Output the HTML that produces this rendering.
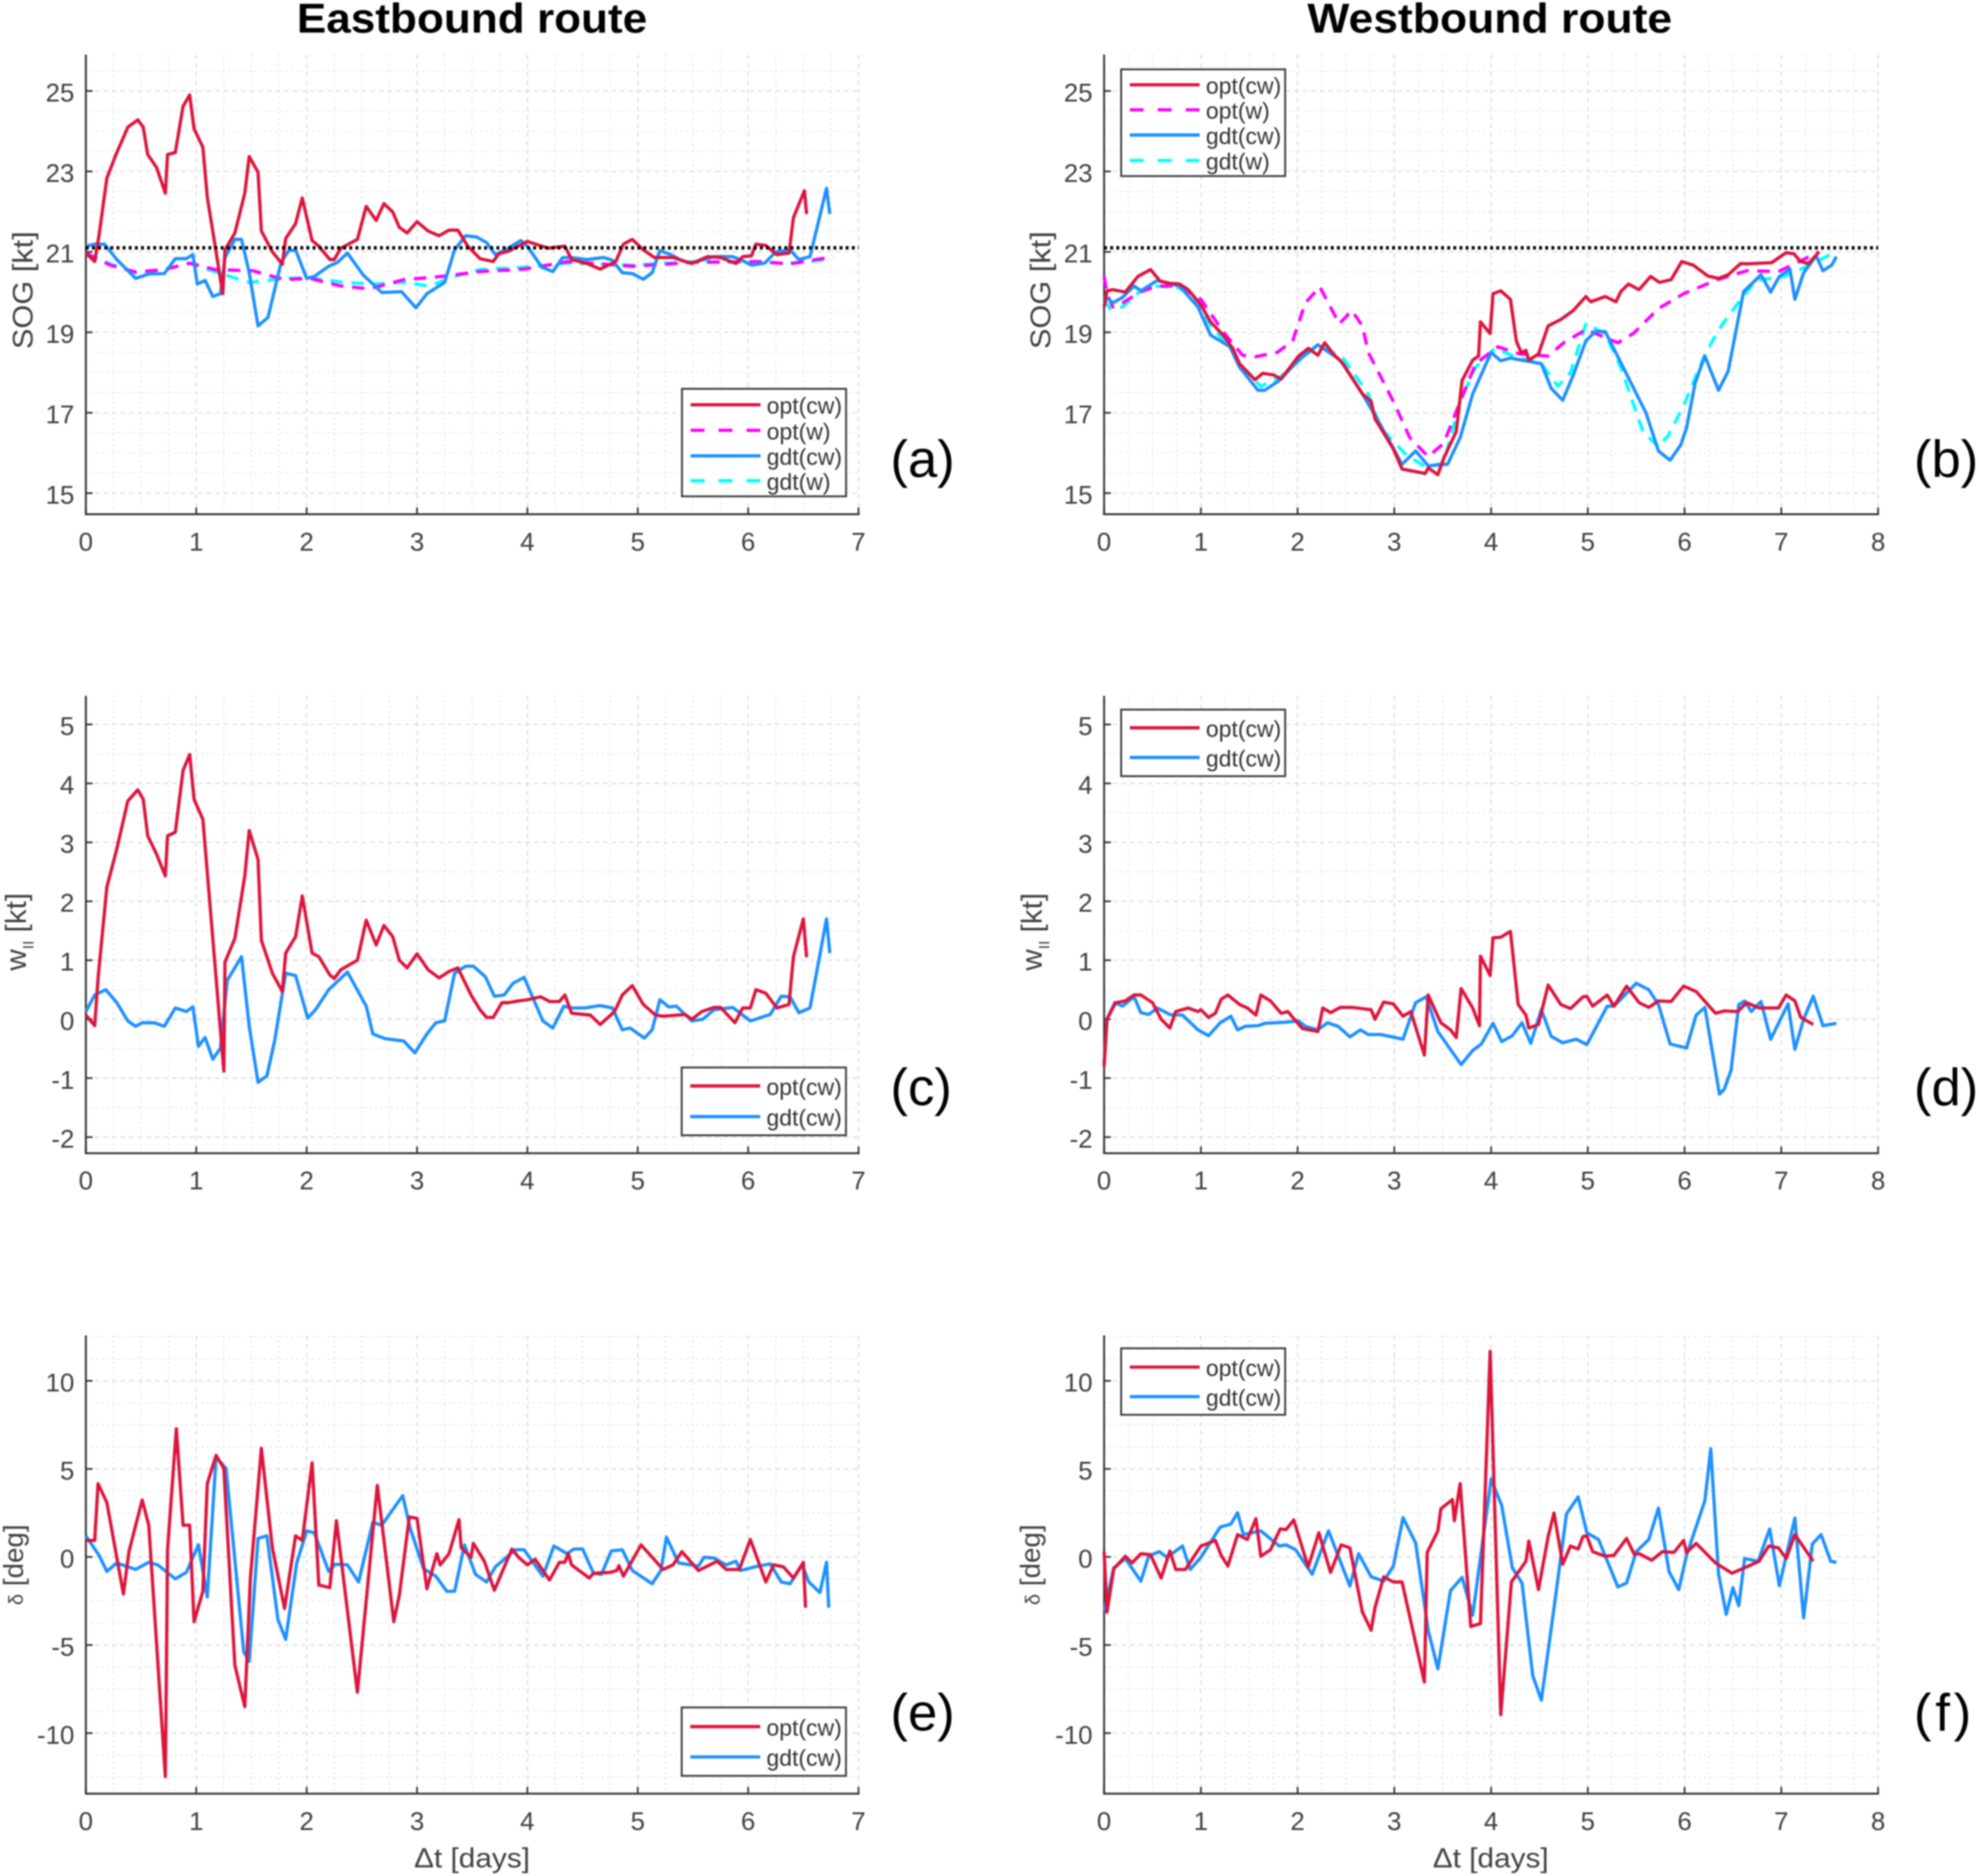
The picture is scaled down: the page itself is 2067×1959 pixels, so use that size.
<!DOCTYPE html>
<html lang="en">
<head>
<meta charset="utf-8">
<title>Eastbound and westbound route charts</title>
<style>
html,body{margin:0;padding:0;background:#fff;}
body{width:2067px;height:1959px;overflow:hidden;}
svg{display:block;filter:blur(0.7px);font-family:"Liberation Sans",sans-serif;}
</style>
</head>
<body>
<svg id="figure" xmlns="http://www.w3.org/2000/svg" width="2067" height="1959" viewBox="0 0 2067 1959">
  <rect width="2067" height="1959" fill="#fff"/>
  <g id="plots"></g>
  <text x="493" y="34" font-size="44" font-weight="bold" text-anchor="middle" textLength="366" lengthAdjust="spacingAndGlyphs" fill="#000">Eastbound route</text>
  <text x="1556" y="34" font-size="44" font-weight="bold" text-anchor="middle" textLength="381" lengthAdjust="spacingAndGlyphs" fill="#000">Westbound route</text>

  <text transform="translate(34,303) rotate(-90)" font-size="30" text-anchor="middle" textLength="123" lengthAdjust="spacingAndGlyphs" fill="#404040">SOG  [kt]</text>
  <text transform="translate(1097,303) rotate(-90)" font-size="30" text-anchor="middle" textLength="123" lengthAdjust="spacingAndGlyphs" fill="#404040">SOG  [kt]</text>
  <text transform="translate(27,973) rotate(-90)" font-size="31" text-anchor="middle" fill="#404040">w<tspan font-size="16" dy="8">II</tspan><tspan dy="-8"> [kt]</tspan></text>
  <text transform="translate(1088,973) rotate(-90)" font-size="31" text-anchor="middle" fill="#404040">w<tspan font-size="16" dy="8">II</tspan><tspan dy="-8"> [kt]</tspan></text>
  <text transform="translate(24,1634) rotate(-90)" font-size="29" text-anchor="middle" fill="#404040"><tspan font-size="21">δ</tspan> [deg]</text>
  <text transform="translate(1086,1634) rotate(-90)" font-size="29" text-anchor="middle" fill="#404040"><tspan font-size="21">δ</tspan> [deg]</text>

  <text x="493" y="1950" font-size="29" text-anchor="middle" textLength="121" lengthAdjust="spacingAndGlyphs" fill="#404040">Δt [days]</text>
  <text x="1557" y="1950" font-size="29" text-anchor="middle" textLength="121" lengthAdjust="spacingAndGlyphs" fill="#404040">Δt [days]</text>

  <text x="930" y="498" font-size="55" fill="#000">(a)</text>
  <text x="1999" y="498" font-size="55" fill="#000">(b)</text>
  <text x="930" y="1154" font-size="55" fill="#000">(c)</text>
  <text x="1999" y="1154" font-size="55" fill="#000">(d)</text>
  <text x="930" y="1807" font-size="55" fill="#000">(e)</text>
  <text x="1999" y="1807" font-size="55" letter-spacing="4" fill="#000">(f)</text>
</svg>
<script>
// ---- tick labels ----
const xTicksEast = [0,1,2,3,4,5,6,7];
const xTicksWest = [0,1,2,3,4,5,6,7,8];
const yTicksSog = [15,17,19,21,23,25];
const yTicksWind = [-2,-1,0,1,2,3,4,5];
const yTicksDelta = [-10,-5,0,5,10];
const serviceSpeed = 21.1;

// ---- panel (a) ----
const aOptCwT = [0,.08,.12,.19,.27,.38,.47,.52,.56,.64,.72,.74,.81,.88,.94,.98,1.06,1.10,1.24,1.26,1.35,1.44,1.48,1.56,1.59,1.69,1.78,1.81,1.90,1.96,2.05,2.11,2.21,2.25,2.31,2.46,2.54,2.63,2.70,2.78,2.84,2.91,3.0,3.10,3.2,3.29,3.37,3.46,3.57,3.69,3.74,3.83,4.0,4.19,4.34,4.40,4.54,4.66,4.80,4.87,4.95,5.05,5.15,5.32,5.49,5.63,5.75,5.89,5.95,6.03,6.07,6.16,6.26,6.37,6.41,6.51,6.53];
const aOptCwV = [20.97,20.76,21.42,22.83,23.4,24.1,24.28,24.1,23.42,23.1,22.46,23.42,23.47,24.62,24.9,24.06,23.6,22.36,19.96,21.05,21.47,22.46,23.37,22.98,21.52,21.0,20.69,21.33,21.7,22.34,21.28,21.14,20.81,20.81,21.09,21.31,22.13,21.78,22.2,21.99,21.61,21.47,21.75,21.52,21.4,21.54,21.54,21.14,20.83,20.76,20.95,21.02,21.26,21.09,21.14,20.81,20.71,20.57,20.76,21.19,21.31,21.05,20.86,20.86,20.71,20.88,20.86,20.71,20.88,20.90,21.19,21.16,20.93,20.97,21.85,22.52,21.94];
const aGdtCwT = [0,.08,.17,.28,.45,.57,.71,.81,.91,.97,1.01,1.08,1.15,1.22,1.26,1.35,1.41,1.48,1.56,1.65,1.77,1.84,1.90,2.0,2.07,2.2,2.28,2.37,2.51,2.68,2.86,2.99,3.09,3.25,3.34,3.44,3.54,3.63,3.71,3.80,3.94,4.0,4.13,4.23,4.32,4.40,4.54,4.69,4.77,4.86,4.95,5.05,5.13,5.20,5.30,5.40,5.49,5.60,5.69,5.86,5.95,6.03,6.15,6.25,6.38,6.46,6.56,6.71,6.74];
const aGdtCwV = [21.14,21.19,21.19,20.81,20.34,20.45,20.46,20.83,20.83,20.93,20.2,20.29,19.89,19.96,20.86,21.31,21.31,20.48,19.16,19.37,20.76,21.03,21.05,20.34,20.39,20.64,20.74,20.97,20.43,19.99,20.01,19.61,19.96,20.24,21.05,21.40,21.37,21.23,20.93,21.05,21.28,21.14,20.62,20.51,20.86,20.86,20.81,20.86,20.79,20.48,20.46,20.32,20.48,21.03,20.93,20.78,20.72,20.81,20.88,20.88,20.78,20.67,20.72,21.0,21.05,20.81,20.88,22.58,21.94];
const aOptWT = [0,.22,.45,.71,.94,1.17,1.51,1.8,2.03,2.31,2.57,2.88,3.23,3.57,3.97,4.37,4.95,5.52,6.09,6.38,6.77];
const aOptWV = [20.97,20.67,20.5,20.56,20.72,20.56,20.53,20.31,20.34,20.15,20.08,20.31,20.39,20.51,20.57,20.76,20.64,20.74,20.76,20.7,20.88];
const aGdtWT = [0,.22,.45,.71,.94,1.2,1.48,1.8,2.03,2.34,2.6,2.88,3.11,3.34,3.57,3.97,4.37,4.95,5.52,6.09,6.38,6.72];
const aGdtWV = [20.97,20.7,20.48,20.56,20.72,20.48,20.24,20.34,20.36,20.24,20.2,20.24,20.15,20.39,20.56,20.62,20.72,20.67,20.76,20.73,20.72,20.81];

// ---- panel (b) ----
const bOptCwT = [0,.03,.09,.22,.35,.48,.58,.68,.78,.87,1.0,1.1,1.23,1.33,1.4,1.56,1.64,1.75,1.83,2.01,2.11,2.21,2.28,2.37,2.47,2.67,2.76,2.8,2.99,3.08,3.32,3.35,3.45,3.51,3.64,3.7,3.81,3.87,3.89,3.99,4.02,4.1,4.2,4.26,4.31,4.36,4.39,4.49,4.59,4.72,4.85,4.98,5.03,5.18,5.29,5.34,5.42,5.53,5.65,5.74,5.86,5.97,6.09,6.24,6.35,6.45,6.58,6.64,6.9,7.05,7.13,7.2,7.28,7.39];
const bOptCwV = [19.63,20.03,20.06,20.0,20.39,20.56,20.27,20.22,20.2,20.06,19.68,19.26,18.93,18.6,18.22,17.82,17.98,17.94,17.84,18.41,18.6,18.43,18.74,18.46,18.22,17.47,17.28,16.85,16.1,15.6,15.49,15.63,15.46,15.87,16.53,17.8,18.31,18.41,19.26,18.97,19.96,20.03,19.82,18.79,18.5,18.55,18.31,18.46,19.16,19.32,19.54,19.89,19.76,19.89,19.76,20.01,20.2,20.06,20.39,20.24,20.31,20.76,20.67,20.4,20.34,20.43,20.71,20.7,20.73,20.98,20.95,20.76,20.71,21.0];
const bGdtCwT = [0,.09,.19,.31,.38,.55,.78,.97,1.1,1.3,1.4,1.59,1.66,1.81,2.01,2.21,2.44,2.67,2.83,3.08,3.22,3.35,3.55,3.68,3.81,4.0,4.1,4.2,4.52,4.62,4.74,4.85,4.98,5.08,5.18,5.6,5.73,5.85,5.96,6.02,6.11,6.21,6.35,6.45,6.61,6.79,6.89,6.98,7.09,7.14,7.23,7.36,7.43,7.52,7.57];
const bGdtCwV = [19.92,19.73,19.87,20.15,20.03,20.29,20.15,19.63,18.93,18.64,18.13,17.56,17.56,17.8,18.31,18.69,18.31,17.47,16.81,15.72,16.05,15.68,15.72,16.38,17.47,18.5,18.29,18.36,18.22,17.61,17.31,17.94,18.79,19.02,19.02,17.0,16.05,15.82,16.2,16.62,17.75,18.41,17.56,18.03,20.01,20.43,20.0,20.39,20.57,19.82,20.48,20.9,20.53,20.67,20.88];
const bOptWT = [0,.03,.09,.19,.38,.55,.78,1.0,1.23,1.43,1.56,1.79,1.95,2.08,2.23,2.43,2.56,2.67,2.73,2.99,3.16,3.35,3.51,3.68,3.84,4.07,4.3,4.59,4.75,4.98,5.31,5.47,5.73,5.99,6.32,6.64,6.97,7.39];
const bOptWV = [20.39,19.96,19.63,19.73,20.01,20.15,20.15,19.82,19.02,18.43,18.39,18.5,18.79,19.73,20.13,19.21,19.54,19.16,18.5,17.28,16.38,15.91,16.24,17.28,18.22,18.64,18.46,18.41,18.74,19.07,18.74,18.97,19.59,19.96,20.29,20.53,20.51,21.0];
const bGdtWT = [0,.06,.19,.38,.55,.78,.97,1.1,1.33,1.43,1.62,1.82,2.05,2.21,2.47,2.73,2.86,3.12,3.32,3.51,3.68,3.84,4.04,4.23,4.52,4.69,4.82,4.98,5.18,5.34,5.57,5.73,5.83,5.99,6.22,6.38,6.58,6.74,7.03,7.29,7.56];
const bGdtWV = [19.82,19.59,19.63,20.03,20.15,20.1,19.77,19.16,18.55,18.08,17.66,17.89,18.36,18.69,18.36,17.47,16.62,15.96,15.66,15.75,17.28,18.13,18.6,18.41,18.22,17.66,17.99,19.21,18.97,18.13,16.53,16.15,16.43,17.18,18.5,19.16,19.82,20.29,20.39,20.67,21.0];

// ---- panel (c) ----
const cOptCwT = [0,.08,.11,.19,.28,.38,.47,.52,.56,.64,.72,.74,.81,.88,.94,.98,1.06,1.10,1.25,1.26,1.35,1.44,1.48,1.56,1.59,1.69,1.78,1.81,1.90,1.96,2.05,2.11,2.21,2.25,2.31,2.46,2.54,2.63,2.70,2.78,2.84,2.91,3.0,3.10,3.2,3.29,3.37,3.49,3.57,3.63,3.69,3.77,3.83,3.92,4.0,4.12,4.2,4.29,4.34,4.40,4.57,4.66,4.79,4.86,4.95,5.05,5.16,5.23,5.43,5.49,5.58,5.69,5.75,5.88,5.95,6.02,6.07,6.16,6.26,6.37,6.41,6.50,6.53];
const cOptCwV = [.07,-.11,.69,2.24,2.89,3.70,3.89,3.73,3.11,2.8,2.43,3.11,3.17,4.22,4.49,3.73,3.39,2.49,-.88,.97,1.37,2.43,3.2,2.71,1.34,.78,.47,1.12,1.4,2.09,1.12,1.06,.75,.69,.84,1.0,1.68,1.26,1.59,1.4,1.0,.87,1.11,.84,.7,.81,.87,.41,.16,.03,.03,.28,.28,.31,.33,.38,.30,.3,.41,.1,.07,-.09,.13,.41,.57,.25,.07,.05,.08,0,.13,.2,.2,-.06,.19,.19,.5,.44,.19,.25,1.06,1.7,1.05];
const cGdtCwT = [0,.08,.18,.28,.38,.45,.51,.62,.71,.81,.91,.97,1.02,1.08,1.15,1.22,1.28,1.41,1.48,1.56,1.64,1.71,1.81,1.90,2.01,2.08,2.2,2.37,2.54,2.6,2.71,2.88,2.98,3.09,3.17,3.25,3.34,3.44,3.51,3.62,3.70,3.79,3.87,3.97,4.14,4.23,4.33,4.40,4.52,4.66,4.77,4.86,4.93,5.06,5.13,5.2,5.28,5.35,5.49,5.59,5.69,5.86,5.93,6.02,6.2,6.3,6.38,6.46,6.56,6.71,6.74];
const cGdtCwV = [.13,.41,.5,.28,-.03,-.12,-.06,-.06,-.12,.19,.13,.21,-.46,-.31,-.68,-.49,.66,1.06,-.12,-1.07,-.96,-.37,.78,.74,.02,.16,.5,.8,.22,-.25,-.33,-.37,-.57,-.25,-.06,-.03,.78,.9,.9,.72,.39,.41,.61,.71,-.03,-.15,.22,.19,.19,.23,.19,-.18,-.15,-.32,-.18,.33,.21,.22,-.03,0,.16,.2,.1,-.03,.08,.39,.38,.11,.19,1.7,1.12];

// ---- panel (d) ----
const dOptCwT = [0,.03,.12,.22,.31,.38,.5,.59,.68,.74,.87,.97,1.0,1.08,1.15,1.21,1.28,1.4,1.48,1.57,1.62,1.72,1.83,1.9,1.95,2.05,2.21,2.26,2.34,2.44,2.57,2.76,2.8,2.89,2.99,3.09,3.17,3.31,3.35,3.48,3.58,3.64,3.69,3.81,3.88,3.89,3.99,4.02,4.1,4.2,4.28,4.36,4.39,4.49,4.59,4.72,4.82,4.95,4.99,5.05,5.2,5.27,5.4,5.53,5.63,5.73,5.86,5.99,6.12,6.32,6.41,6.55,6.64,6.77,6.97,7.05,7.14,7.2,7.33];
const dOptCwV = [-.8,0,.28,.31,.41,.41,.28,0,-.15,.13,.19,.13,.16,.03,.1,.34,.41,.25,.19,.07,.41,.31,.1,.13,.03,-.16,-.21,.19,.11,.2,.2,.16,0,.29,.26,.05,.13,-.61,.41,-.06,-.18,-.31,.52,.19,-.11,1.07,.74,1.38,1.39,1.49,.25,.07,-.15,-.09,.58,.25,.18,.38,.39,.22,.41,.22,.56,.28,.2,.31,.3,.56,.47,.1,.14,.13,.28,.19,.19,.41,.31,.03,-.09];
const dGdtCwT = [0,.03,.11,.19,.31,.38,.46,.55,.68,.81,.97,1.08,1.2,1.31,1.38,1.46,1.59,1.66,1.88,2.01,2.08,2.21,2.31,2.42,2.54,2.65,2.73,2.86,3.09,3.22,3.33,3.45,3.69,3.81,3.9,4.02,4.11,4.22,4.32,4.41,4.52,4.62,4.74,4.88,4.99,5.2,5.27,5.5,5.63,5.73,5.85,6.02,6.12,6.21,6.36,6.41,6.48,6.56,6.62,6.69,6.79,6.89,7.07,7.14,7.23,7.33,7.43,7.57];
const dGdtCwV = [-.74,0,.28,.22,.38,.11,.08,.19,.08,.07,-.18,-.28,-.06,.05,-.18,-.12,-.11,-.07,-.05,-.03,-.12,-.18,-.06,-.12,-.30,-.18,-.26,-.26,-.34,.28,.38,-.21,-.77,-.53,-.42,-.07,-.38,-.28,-.06,-.41,.16,-.29,-.4,-.34,-.43,.22,.22,.61,.5,.25,-.42,-.49,.07,.2,-1.27,-1.19,-.87,.25,.31,.13,.3,-.34,.26,-.51,0,.39,-.11,-.07];

// ---- panel (e) ----
const eOptCwT = [0,.08,.11,.19,.34,.39,.51,.57,.72,.74,.82,.88,.94,.98,1.06,1.10,1.18,1.25,1.35,1.44,1.49,1.59,1.69,1.8,1.9,1.96,2.05,2.11,2.21,2.27,2.46,2.64,2.79,2.84,2.93,3.0,3.09,3.18,3.21,3.29,3.38,3.4,3.49,3.51,3.61,3.7,3.86,3.92,4.0,4.07,4.2,4.29,4.34,4.37,4.40,4.56,4.6,4.75,4.81,4.83,4.87,5.03,5.23,5.32,5.4,5.55,5.72,5.8,5.92,6.02,6.16,6.23,6.32,6.41,6.5,6.52];
const eOptCwV = [.94,.94,4.16,3.09,-2.1,.3,3.24,1.8,-12.47,.41,7.27,1.8,1.8,-3.67,-1.95,4.16,5.77,5.02,-6.14,-8.5,-1.2,6.16,.51,-2.92,1.2,.94,5.34,-1.59,-1.74,2.06,-7.68,4.06,-3.67,-2.17,2.27,2.19,-1.8,.19,-.45,.19,2.12,.52,-.02,.77,-.24,-1.89,.45,-.02,-.45,-.13,-1.31,-.3,-.3,.19,-.45,-1.2,-.92,-.88,-.77,-.49,-1.09,.69,-.71,-.45,.3,-.77,-.24,-.71,-.71,.99,-1.42,-.45,-.56,-1.2,-.3,-2.88];
const eGdtCwT = [0,.12,.19,.28,.45,.57,.65,.81,.91,1.02,1.10,1.18,1.27,1.43,1.48,1.56,1.64,1.74,1.81,1.91,2.0,2.07,2.2,2.26,2.37,2.47,2.6,2.68,2.87,2.94,3.06,3.17,3.27,3.34,3.43,3.53,3.63,3.71,3.89,3.97,4.14,4.24,4.36,4.42,4.5,4.6,4.67,4.76,4.86,4.95,5.13,5.21,5.26,5.37,5.55,5.6,5.69,5.8,5.89,5.93,6.06,6.2,6.3,6.38,6.49,6.55,6.65,6.71,6.73];
const eGdtCwV = [1.2,.09,-.82,-.34,-.71,-.3,-.45,-1.24,-.88,.69,-2.27,5.67,5.02,-5.39,-5.92,1.05,1.2,-3.56,-4.68,-.34,1.48,1.37,-.82,-.41,-.45,-1.42,1.97,1.8,3.48,1.59,-.67,-1.09,-1.95,-1.95,.69,-.99,-1.42,-.56,.41,.41,-1.09,.62,.19,.45,.45,-.94,-.99,.34,.41,-.77,-1.52,-.77,1.12,-.34,-.52,-.02,-.06,-.45,-.24,-.77,-.56,-.39,-1.42,-1.52,-.45,-1.42,-2.02,-.3,-2.88];

// ---- panel (f) ----
const fOptCwT = [0,.03,.1,.22,.29,.38,.48,.59,.68,.74,.84,1.0,1.15,1.21,1.28,1.38,1.48,1.57,1.62,1.72,1.82,1.88,1.96,2.11,2.22,2.34,2.45,2.54,2.67,2.76,2.8,2.89,2.99,3.08,3.31,3.34,3.45,3.48,3.6,3.62,3.68,3.79,3.89,3.99,4.1,4.21,4.36,4.39,4.49,4.59,4.65,4.74,4.82,4.9,4.95,4.99,5.05,5.18,5.27,5.4,5.48,5.53,5.66,5.77,5.89,5.99,6.02,6.12,6.32,6.49,6.64,6.77,6.87,6.97,7.05,7.14,7.33];
const fOptCwV = [.3,-3.13,-.67,.04,-.34,.19,.13,-1.2,.34,-.71,-.71,.62,.94,.09,-.52,1.27,.99,2.17,.04,.41,1.59,1.55,2.1,-.56,1.37,-.88,.69,.52,-3.13,-4.16,-2.88,-1.13,-1.42,-1.42,-7.1,.26,1.48,2.73,3.26,2.06,4.16,-3.95,-3.78,11.67,-8.95,-1.42,-.24,.9,-1.85,1.16,2.49,-.41,.62,.45,1.16,1.2,.3,.04,.09,1.05,.15,.19,-.19,.3,.26,.94,.26,.77,-.34,-.92,-.56,-.24,.62,.52,-.09,1.27,-.24];
const fGdtCwT = [0,.1,.22,.38,.46,.57,.65,.81,.89,1.0,1.2,1.31,1.38,1.44,1.62,1.81,1.88,1.98,2.15,2.32,2.54,2.63,2.76,2.89,2.99,3.09,3.22,3.35,3.45,3.58,3.7,3.81,4.0,4.11,4.22,4.32,4.43,4.52,4.64,4.78,4.9,4.99,5.11,5.31,5.4,5.5,5.63,5.73,5.84,5.94,6.02,6.21,6.27,6.35,6.43,6.5,6.56,6.62,6.76,6.88,6.98,7.14,7.23,7.32,7.41,7.51,7.57];
const fGdtCwV = [-3.09,-.62,-.09,-1.37,.04,.3,-.02,.62,-.71,-.02,1.7,1.87,2.51,1.27,1.48,.62,.69,.41,-.98,1.48,-1.65,.19,-1.12,-1.37,-.52,2.23,.79,-4.16,-6.35,-1.91,-1.16,-3.3,4.42,2.92,-.62,-1.48,-6.74,-8.13,-3.3,2.45,3.41,1.37,.99,-1.7,-1.48,.3,.99,2.77,-.84,-1.85,.09,3.2,6.14,-.94,-3.26,-1.74,-2.77,-.09,-.24,1.59,-1.63,2.21,-3.45,.73,1.27,-.24,-.3];

// ---- styles ----
const SVGNS = 'http://www.w3.org/2000/svg';
const plots = document.getElementById('plots');
const RED = '#dc143c', BLUE = '#1e90ff', MAGENTA = '#ff00ff', CYAN = '#00ffff', AXIS = '#333333', LABEL = '#404040';

function makeScale(d0, p0, d1, p1) {
  return function (v) { return p0 + (v - d0) * (p1 - p0) / (d1 - d0); };
}
function svgEl(tag, parent) {
  const el = document.createElementNS(SVGNS, tag);
  parent.appendChild(el);
  return el;
}
function seg(parent, x1, y1, x2, y2, stroke, width, dash) {
  const l = svgEl('line', parent);
  l.setAttribute('x1', x1.toFixed(1));
  l.setAttribute('y1', y1.toFixed(1));
  l.setAttribute('x2', x2.toFixed(1));
  l.setAttribute('y2', y2.toFixed(1));
  l.setAttribute('stroke', stroke);
  l.setAttribute('stroke-width', width);
  if (dash) l.setAttribute('stroke-dasharray', dash);
  return l;
}
function drawSeries(group, sx, sy, ts, vs, color, dash, name) {
  const p = svgEl('polyline', group);
  
  
  p.setAttribute('fill', 'none');
  p.setAttribute('stroke', color);
  p.setAttribute('stroke-width', '3.4');
  p.setAttribute('stroke-linejoin', 'round');
  if (dash) p.setAttribute('stroke-dasharray', dash);
  const pts = [];
  for (let i = 0; i < ts.length; i++) pts.push(sx(ts[i]).toFixed(1) + ',' + sy(vs[i]).toFixed(1));
  p.setAttribute('points', pts.join(' '));
}
function drawAxes(group, id, box, sx, sy, xTicks, yTicks, gridLo, gridHi, gridStep) {
  const grid = svgEl('g', group);
  
  
  const xMax = xTicks[xTicks.length - 1];
  for (let i = 1; i <= xMax * 4; i++) {
    const t = i * 0.25;
    const major = i % 4 === 0;
    seg(grid, sx(t), box.top, sx(t), box.bottom, major ? '#d6d6d6' : '#dadada', 1.1, major ? '5 4' : '1.5 4');
  }
  const n = Math.round((gridHi - gridLo) / gridStep);
  for (let i = 0; i <= n; i++) {
    const v = gridLo + i * gridStep;
    const major = yTicks.indexOf(v) >= 0;
    seg(grid, box.left, sy(v), box.right, sy(v), major ? '#d6d6d6' : '#dadada', 1.1, major ? '5 4' : '1.5 4');
  }
  const axis = svgEl('g', group);
  
  
  seg(axis, box.left, box.top, box.left, box.bottom, AXIS, 2);
  seg(axis, box.left - 1, box.bottom, box.right + 1, box.bottom, AXIS, 2);
  xTicks.forEach(function (t) {
    seg(axis, sx(t), box.bottom, sx(t), box.bottom - 7, AXIS, 1.8);
    const lab = svgEl('text', axis);
    
    
    lab.setAttribute('x', sx(t).toFixed(1));
    lab.setAttribute('y', (box.bottom + 38).toFixed(1));
    lab.setAttribute('font-size', '27');
    lab.setAttribute('text-anchor', 'middle');
    lab.setAttribute('fill', LABEL);
    lab.textContent = String(t);
  });
  yTicks.forEach(function (v) {
    seg(axis, box.left, sy(v), box.left + 7, sy(v), AXIS, 1.8);
    const lab = svgEl('text', axis);
    
    
    lab.setAttribute('x', (box.left - 12).toFixed(1));
    lab.setAttribute('y', (sy(v) + 11).toFixed(1));
    lab.setAttribute('font-size', '27');
    lab.setAttribute('text-anchor', 'end');
    lab.setAttribute('fill', LABEL);
    lab.textContent = String(v);
  });
}
function drawLegend(parent, id, x0, y0, x1, y1, labels, colors, dashes, rows) {
  const g = svgEl('g', parent);
  
  
  const r = svgEl('rect', g);
  r.setAttribute('x', x0);
  r.setAttribute('y', y0);
  r.setAttribute('width', x1 - x0);
  r.setAttribute('height', y1 - y0);
  r.setAttribute('fill', '#fff');
  r.setAttribute('stroke', '#404040');
  r.setAttribute('stroke-width', '2');
  labels.forEach(function (label, i) {
    const entry = svgEl('g', g);
    
    
    seg(entry, x0 + 9, rows[i], x0 + 82, rows[i], colors[i], 3.4, dashes[i]);
    const t = svgEl('text', entry);
    
    
    t.setAttribute('x', x0 + 88.5);
    t.setAttribute('y', rows[i] + 9.5);
    t.setAttribute('font-size', '24');
    t.setAttribute('fill', '#333');
    t.textContent = label;
  });
}
function panelGroup(id) {
  const g = svgEl('g', plots);
  
  
  return g;
}

const east = { left: 89.7, right: 896.7, xMax: 7 };
const west = { left: 1153.2, right: 1961.6, xMax: 8 };
const DASH = '13 9';
const LEGEND_DASH = '14.5 14.7';
const fourLabels = ['opt(cw)', 'opt(w)', 'gdt(cw)', 'gdt(w)'];
const fourColors = [RED, MAGENTA, BLUE, CYAN];
const fourDashes = [null, LEGEND_DASH, null, LEGEND_DASH];
const twoLabels = ['opt(cw)', 'gdt(cw)'];
const twoColors = [RED, BLUE];
const twoDashes = [null, null];

function sogPanel(id, col, xTicks, s, legendBox, rows) {
  const g = panelGroup(id);
  const box = { left: col.left, right: col.right, top: 57, bottom: 537 };
  const sx = makeScale(0, col.left, col.xMax, col.right);
  const sy = makeScale(25, 95, 15, 515);
  drawAxes(g, id, box, sx, sy, xTicks, yTicksSog, 15, 25.5, 0.5);
  drawSeries(g, sx, sy, s.gwT, s.gwV, CYAN, DASH, 'gdt-w-line-' + id);
  drawSeries(g, sx, sy, s.owT, s.owV, MAGENTA, DASH, 'opt-w-line-' + id);
  drawSeries(g, sx, sy, s.gcT, s.gcV, BLUE, null, 'gdt-cw-line-' + id);
  drawSeries(g, sx, sy, s.ocT, s.ocV, RED, null, 'opt-cw-line-' + id);
  const ref = seg(g, sx(0), sy(serviceSpeed), sx(col.xMax), sy(serviceSpeed), '#000', 3.6, '3 3.4');
  
  
  drawLegend(g, id, legendBox[0], legendBox[1], legendBox[2], legendBox[3], fourLabels, fourColors, fourDashes, rows);
}
function twoPanel(id, col, xTicks, top, bottom, d0, p0, d1, p1, yTicks, gLo, gHi, gStep, ocT, ocV, gcT, gcV, legendBox, rows) {
  const g = panelGroup(id);
  const box = { left: col.left, right: col.right, top: top, bottom: bottom };
  const sx = makeScale(0, col.left, col.xMax, col.right);
  const sy = makeScale(d0, p0, d1, p1);
  drawAxes(g, id, box, sx, sy, xTicks, yTicks, gLo, gHi, gStep);
  drawSeries(g, sx, sy, gcT, gcV, BLUE, null, 'gdt-cw-line-' + id);
  drawSeries(g, sx, sy, ocT, ocV, RED, null, 'opt-cw-line-' + id);
  drawLegend(g, id, legendBox[0], legendBox[1], legendBox[2], legendBox[3], twoLabels, twoColors, twoDashes, rows);
}

sogPanel('a', east, xTicksEast, { ocT: aOptCwT, ocV: aOptCwV, gcT: aGdtCwT, gcV: aGdtCwV, owT: aOptWT, owV: aOptWV, gwT: aGdtWT, gwV: aGdtWV }, [712.3, 406, 883.7, 518.3], [422.7, 449.3, 476, 502]);
sogPanel('b', west, xTicksWest, { ocT: bOptCwT, ocV: bOptCwV, gcT: bGdtCwT, gcV: bGdtCwV, owT: bOptWT, owV: bOptWV, gwT: bGdtWT, gwV: bGdtWV }, [1171, 72.4, 1342.3, 183.9], [88.6, 114.7, 141, 167.6]);
twoPanel('c', east, xTicksEast, 726.6, 1204.2, 5, 756.5, -2, 1187.4, yTicksWind, -2, 5, 0.5, cOptCwT, cOptCwV, cGdtCwT, cGdtCwV, [712, 1114.7, 883.6, 1185.5], [1134, 1166]);
twoPanel('d', west, xTicksWest, 726.6, 1204.2, 5, 756.5, -2, 1187.4, yTicksWind, -2, 5, 0.5, dOptCwT, dOptCwV, dGdtCwT, dGdtCwV, [1171, 741, 1342.3, 810.5], [760, 791]);
twoPanel('e', east, xTicksEast, 1394.5, 1873, 10, 1441.9, -10, 1809.8, yTicksDelta, -12.5, 12.5, 1.25, eOptCwT, eOptCwV, eGdtCwT, eGdtCwV, [712, 1783, 883.6, 1854.4], [1803, 1834.7]);
twoPanel('f', west, xTicksWest, 1394.5, 1873, 10, 1441.9, -10, 1809.8, yTicksDelta, -12.5, 12.5, 1.25, fOptCwT, fOptCwV, fGdtCwT, fGdtCwV, [1171, 1408, 1342.3, 1477.4], [1427.6, 1458.4]);
</script>
</body>
</html>
